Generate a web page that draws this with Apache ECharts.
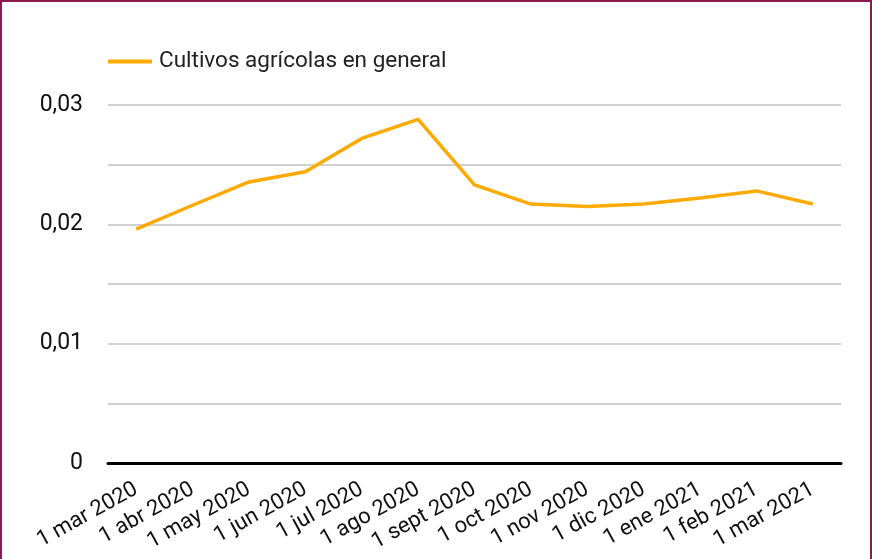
<!DOCTYPE html>
<html>
<head>
<meta charset="utf-8">
<script src="https://cdn.jsdelivr.net/npm/echarts@6/dist/echarts.min.js"></script>
<style>
  html, body { margin: 0; padding: 0; background: #fff; }
  #chart { width: 872px; height: 559px; box-sizing: border-box; border: 2px solid #8a1a50; border-bottom: none; }
</style>
</head>
<body>
<div id="chart"></div>
<script>
var categories = ["1 mar 2020", "1 abr 2020", "1 may 2020", "1 jun 2020", "1 jul 2020", "1 ago 2020",
  "1 sept 2020", "1 oct 2020", "1 nov 2020", "1 dic 2020", "1 ene 2021", "1 feb 2021", "1 mar 2021"];
var seriesName = "Cultivos agrícolas en general";
var values = [0.0196, 0.0216, 0.02355, 0.0244, 0.0272, 0.0288, 0.0233, 0.0217, 0.0215, 0.0217, 0.0222, 0.0228, 0.0217];

var chart = echarts.init(document.getElementById("chart"));
chart.setOption({
  animation: false,
  grid: { left: 106, right: 29, top: 103, bottom: 96 },
  legend: {
    left: 106,
    top: 48,
    padding: 0,
    itemWidth: 44,
    itemHeight: 4,
    itemGap: 8,
    icon: "rect",
    textStyle: { fontFamily: "Roboto", fontSize: 22.5, color: "#222", padding: [0, 0, 0, 2] },
    data: [seriesName]
  },
  xAxis: {
    type: "category",
    data: categories,
    boundaryGap: true,
    axisLine: { lineStyle: { color: "#000", width: 3 } },
    axisTick: { show: false },
    axisLabel: {
      interval: 0,
      rotate: 29,
      margin: 25,
      fontFamily: "Roboto",
      fontSize: 22,
      color: "#111"
    }
  },
  yAxis: {
    type: "value",
    min: 0,
    max: 0.03,
    interval: 0.005,
    axisLine: { show: false },
    axisTick: { show: false },
    splitLine: { lineStyle: { color: "#d0d0d0", width: 2 } },
    axisLabel: {
      margin: 25,
      fontFamily: "Roboto",
      fontSize: 23,
      color: "#111",
      formatter: function (v) {
        var r = Math.round(v * 1000);
        if (r % 10 !== 0) return "";
        return r === 0 ? "0" : (r / 1000).toFixed(2).replace(".", ",");
      }
    }
  },
  series: [{
    name: seriesName,
    type: "line",
    data: values,
    symbol: "none",
    itemStyle: { color: "#ffaa00" },
    lineStyle: { color: "#ffaa00", width: 3.5, join: "round" }
  }]
});
</script>
</body>
</html>
